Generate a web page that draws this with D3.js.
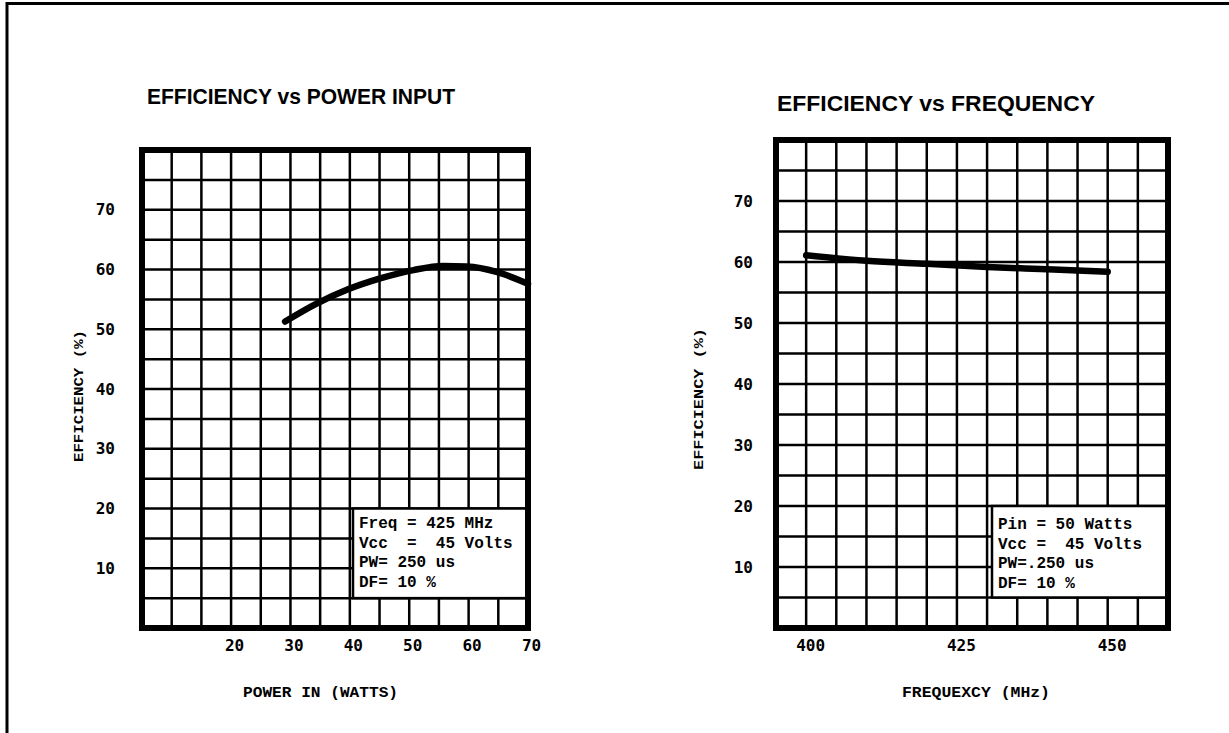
<!DOCTYPE html>
<html>
<head>
<meta charset="utf-8">
<script src="https://cdn.jsdelivr.net/npm/d3@7/dist/d3.min.js"></script>
<style>
  html, body { margin: 0; padding: 0; background: #fff; }
  svg { display: block; }
</style>
</head>
<body>
<svg id="chart" width="1229" height="733"></svg>
<script>
// ---- Data ----
const powerIn      = [29.1, 34.4, 39.5, 45.1, 50.7, 55.7, 59.7, 64.7, 70];
const effVsPower   = [51.3, 54.3, 56.6, 58.5, 59.9, 60.6, 60.5, 59.6, 57.6];
const frequency    = [400, 410, 420, 430, 440, 450];
const effVsFreq    = [61.1, 60.2, 59.7, 59.2, 58.8, 58.4];
const powerTicks   = [20, 30, 40, 50, 60, 70];
const freqTicks    = [400, 425, 450];
const effTicks     = [10, 20, 30, 40, 50, 60, 70];
const legendLeft   = ["Freq = 425 MHz", "Vcc  =  45 Volts", "PW= 250 us", "DF= 10 %"];
const legendRight  = ["Pin = 50 Watts", "Vcc =  45 Volts", "PW=.250 us", "DF= 10 %"];

const svg = d3.select("#chart");

// page frame
svg.append("path")
  .attr("d", "M7,733 L7,3.5 L1229,3.5")
  .attr("fill", "none").attr("stroke", "#000").attr("stroke-width", 3);

function panel(cfg) {
  const x = d3.scaleLinear().domain(cfg.xDomain).range([cfg.left, cfg.right]);
  const y = d3.scaleLinear().domain([0, 80]).range([cfg.bottom, cfg.top]);
  const g = svg.append("g");

  // title
  g.append("text")
    .attr("x", cfg.titleX).attr("y", cfg.titleY)
    .attr("textLength", cfg.titleW).attr("lengthAdjust", "spacingAndGlyphs")
    .style("font-family", "'Liberation Sans Narrow','Arial Narrow','Liberation Sans',sans-serif")
    .style("font-weight", "bold").style("font-size", "22px")
    .text(cfg.title);

  // grid
  const xs = d3.range(cfg.xDomain[0] + 5, cfg.xDomain[1], 5);
  const ys = d3.range(5, 80, 5);
  g.selectAll(".vg").data(xs).join("line")
    .attr("x1", d => x(d)).attr("x2", d => x(d))
    .attr("y1", cfg.top).attr("y2", cfg.bottom)
    .attr("stroke", "#000").attr("stroke-width", 2.5);
  g.selectAll(".hg").data(ys).join("line")
    .attr("x1", cfg.left).attr("x2", cfg.right)
    .attr("y1", d => y(d)).attr("y2", d => y(d))
    .attr("stroke", "#000").attr("stroke-width", 2.5);

  // curve
  const pts = cfg.xs.map((v, i) => [v, cfg.ys[i]]);
  g.append("path")
    .datum(pts)
    .attr("d", d3.line().x(d => x(d[0])).y(d => y(d[1])).curve(d3.curveMonotoneX))
    .attr("fill", "none").attr("stroke", "#000")
    .attr("stroke-width", 6.5).attr("stroke-linecap", "round").attr("stroke-linejoin", "round");

  // legend box
  g.append("rect")
    .attr("x", cfg.legX).attr("y", y(20))
    .attr("width", cfg.right - cfg.legX).attr("height", y(5) - y(20))
    .attr("fill", "#fff").attr("stroke", "#000").attr("stroke-width", 2.5);
  g.selectAll(".leg").data(cfg.legend).join("text")
    .attr("x", cfg.legX + 6)
    .attr("y", (d, i) => cfg.legY + i * 19.5)
    .attr("xml:space", "preserve")
    .style("white-space", "pre")
    .style("font-family", "'Liberation Mono','Courier New',monospace")
    .style("font-weight", "bold").style("font-size", "16px")
    .text(d => d);

  // frame
  g.append("rect")
    .attr("x", cfg.left).attr("y", cfg.top)
    .attr("width", cfg.right - cfg.left).attr("height", cfg.bottom - cfg.top)
    .attr("fill", "none").attr("stroke", "#000").attr("stroke-width", 6);

  // axes
  const tickFont = sel => sel.selectAll("text")
    .style("font-family", "'DejaVu Sans Mono',monospace")
    .style("font-weight", "bold").style("font-size", "16px").attr("fill", "#000");

  const ya = g.append("g").attr("transform", `translate(${cfg.left},0)`)
    .call(d3.axisLeft(y).tickValues(effTicks).tickSize(0).tickPadding(cfg.yPad));
  ya.select(".domain").remove();
  tickFont(ya);

  const xa = g.append("g").attr("transform", `translate(${cfg.xLabelShift},${cfg.bottom})`)
    .call(d3.axisBottom(x).tickValues(cfg.xTicks).tickSize(0).tickPadding(12));
  xa.select(".domain").remove();
  tickFont(xa);

  // axis titles
  g.append("text")
    .attr("x", cfg.xtX).attr("y", 697)
    .attr("textLength", cfg.xtW).attr("lengthAdjust", "spacingAndGlyphs")
    .style("font-family", "'Liberation Mono','Courier New',monospace")
    .style("font-weight", "bold").style("font-size", "14px")
    .text(cfg.xTitle);
  g.append("text")
    .attr("transform", `translate(${cfg.ytX},${cfg.ytY}) rotate(-90)`)
    .attr("text-anchor", "middle")
    .attr("textLength", cfg.ytW).attr("lengthAdjust", "spacingAndGlyphs")
    .style("font-family", "'Liberation Mono','Courier New',monospace")
    .style("font-weight", "bold").style("font-size", "13px")
    .text("EFFICIENCY (%)");
}

panel({
  title: "EFFICIENCY vs POWER INPUT", titleX: 147, titleY: 104, titleW: 308,
  xDomain: [5, 70], left: 142, right: 528, top: 150, bottom: 628,
  xs: powerIn, ys: effVsPower, xTicks: powerTicks, xLabelShift: 3,
  legend: legendLeft, legX: 353, legY: 528,
  yPad: 27, xTitle: "POWER IN (WATTS)", xtX: 243, xtW: 155,
  ytX: 83, ytY: 396, ytW: 132
});

panel({
  title: "EFFICIENCY vs FREQUENCY", titleX: 777, titleY: 111, titleW: 318,
  xDomain: [395, 460], left: 776, right: 1168, top: 140, bottom: 628,
  xs: frequency, ys: effVsFreq, xTicks: freqTicks, xLabelShift: 4,
  legend: legendRight, legX: 992, legY: 529,
  yPad: 23, xTitle: "FREQUEXCY (MHz)", xtX: 902, xtW: 148,
  ytX: 703, ytY: 399, ytW: 142
});
</script>
</body>
</html>
